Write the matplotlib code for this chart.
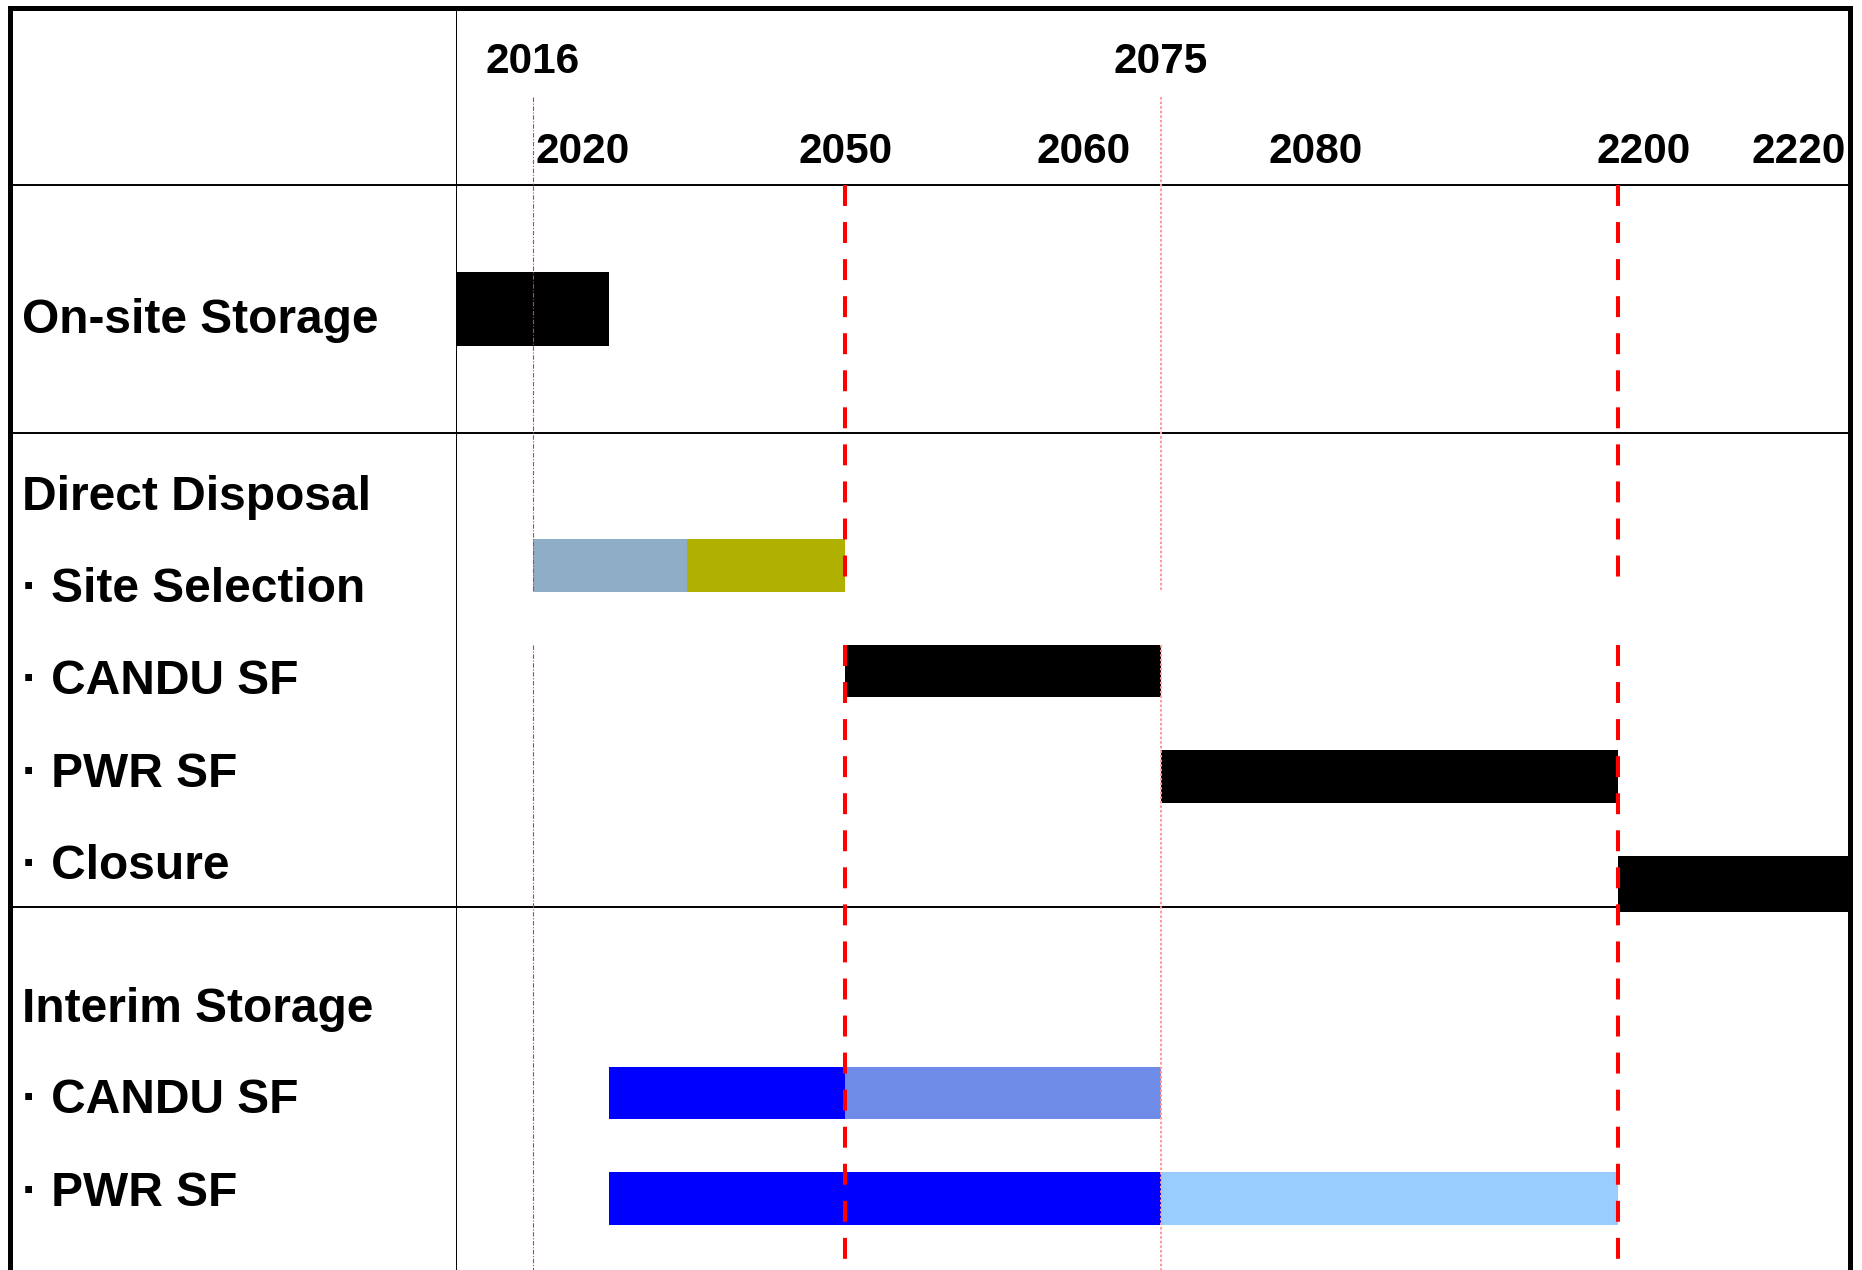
import numpy as np
import matplotlib
matplotlib.use('Agg')
import matplotlib.pyplot as plt

plt.rcParams['font.family'] = ['Liberation Sans', 'DejaVu Sans']
plt.rcParams['font.weight'] = 'bold'

# 処分スケジュール（年）
bar_rows = ['onsite', 'site', 'site', 'dd_candu', 'dd_pwr', 'closure',
            'is_candu', 'is_candu', 'is_pwr', 'is_pwr']
bar_start = [2010, 2016, 2035, 2050, 2075, 2200, 2025, 2050, 2025, 2075]
bar_end = [2025, 2035, 2050, 2075, 2200, 2225, 2050, 2075, 2075, 2200]
bar_colors = ['#000000', '#8FADC6', '#B0B000', '#000000', '#000000', '#000000',
              '#0000FF', '#6F8BE8', '#0000FF', '#99CCFF']

row_labels = ['On-site Storage', 'Direct Disposal', '· Site Selection', '· CANDU SF',
              '· PWR SF', '· Closure', 'Interim Storage', '· CANDU SF', '· PWR SF']

top_years = [2016, 2075]
bottom_years = [2020, 2050, 2060, 2080, 2200, 2220]

# 年軸は模式的なので区分線形のスケールにする
scale_years = [2010, 2016, 2020, 2025, 2035, 2050, 2060, 2075, 2080, 2200, 2220, 2225]
scale_pos = [0, .0552, .0911, .1098, .1657, .2791, .4505, .5057, .6169, .8336, .9634, 1.0]


def fwd(x):
    return np.interp(x, scale_years, scale_pos)


def inv(p):
    return np.interp(p, scale_pos, scale_years)


# 行の位置（縦方向のレイアウト）
row_y = {'onsite': 2.57, 'site': 5, 'dd_candu': 6, 'dd_pwr': 7, 'closure': 8.015,
         'is_candu': 10, 'is_pwr': 11}
row_h = {'onsite': 0.70, 'closure': 0.53}
label_y = [2.635, 4.313, 5.185, 6.057, 6.934, 7.811, 9.166, 10.029, 10.910]
section_y = [1.393, 3.745, 8.237]
Y_TOP, Y_BOT = -0.284, 11.678
GAP = (5.25, 5.75)

W, H = 1862, 1270
fig = plt.figure(figsize=(W / 100, H / 100), dpi=100)
ax = fig.add_axes([456 / W, 0, (1850 - 456) / W, (H - 8) / H])
ax_lab = fig.add_axes([9.5 / W, 0, (456 - 9.5) / W, (H - 8) / H], sharey=ax)

ax.set_xscale('function', functions=(fwd, inv))
ax.set_xlim(2010, 2225)
ax.set_ylim(Y_BOT, Y_TOP)
ax_lab.set_xlim(0, 1)

for a in (ax, ax_lab):
    a.set_xticks([])
    a.tick_params(left=False, labelleft=False, bottom=False, labelbottom=False)
    a.spines['bottom'].set_visible(False)
    for y in section_y:
        a.axhline(y, color='black', lw=1.4, zorder=1)
ax.set_yticks([])

for name in ('top', 'right'):
    ax.spines[name].set_linewidth(3.6)
    ax.spines[name].set_capstyle('projecting')
ax.spines['left'].set_linewidth(1.4)
for name in ('top', 'left'):
    ax_lab.spines[name].set_linewidth(3.6)
    ax_lab.spines[name].set_capstyle('projecting')
ax_lab.spines['right'].set_visible(False)

# バー
for r, s, e, c in zip(bar_rows, bar_start, bar_end, bar_colors):
    ax.barh(row_y[r], e - s, left=s, height=row_h.get(r, 0.5), color=c,
            linewidth=0, zorder=2)


# 縦線（サイト選定の下で途切れる）
def vline(year, y0, **kw):
    ax.vlines([year, year], [y0, GAP[1]], [GAP[0], Y_BOT], zorder=3, **kw)


vline(2016, 0.56, colors='#E6323C', linewidth=0.8, linestyles=(0, (4, 1.5, 1, 1.5)))
vline(2075, 0.56, colors='#FF9A9A', linewidth=1.5, linestyles=(0, (1.2, 1.0)))
for yr in (2050, 2200):
    vline(yr, section_y[0], colors='#FF0000', linewidth=2.9, linestyles=(0, (5.2, 4)))


def put_text(a, x, y, s, fs, ha='center', dx=0, xycoords='data'):
    a.annotate(s, (x, y), xycoords=xycoords, xytext=(dx, -0.358 * fs),
               textcoords='offset points', ha=ha, va='baseline',
               fontsize=fs, fontweight='bold', color='black')


for yr in top_years:
    put_text(ax, yr, 0.190, str(yr), 30.5)
for yr in bottom_years:
    put_text(ax, yr, 1.043, str(yr), 30.5, dx=18.7 if yr == 2200 else 0)

for txt, y in zip(row_labels, label_y):
    put_text(ax_lab, 0.028, y, txt, 34.5, ha='left', xycoords=('axes fraction', 'data'))

fig.savefig('out.png', dpi=100, facecolor='white')
